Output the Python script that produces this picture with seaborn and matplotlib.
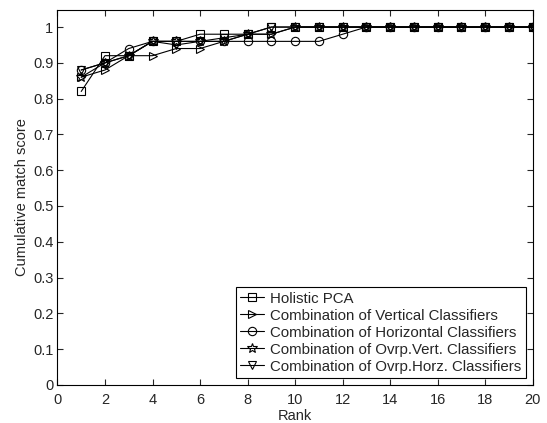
import numpy as np
import pandas as pd
import seaborn as sns
import matplotlib
matplotlib.use("Agg")
import matplotlib.pyplot as plt

rank = list(range(1, 21))
holistic_pca = [0.82, 0.92, 0.92, 0.96, 0.96, 0.98, 0.98, 0.98, 1.0, 1.0,
                1.0, 1.0, 1.0, 1.0, 1.0, 1.0, 1.0, 1.0, 1.0, 1.0]
comb_vertical = [0.86, 0.88, 0.92, 0.92, 0.94, 0.94, 0.96, 0.98, 0.98, 1.0,
                 1.0, 1.0, 1.0, 1.0, 1.0, 1.0, 1.0, 1.0, 1.0, 1.0]
comb_horizontal = [0.88, 0.90, 0.94, 0.96, 0.96, 0.96, 0.96, 0.96, 0.96, 0.96,
                   0.96, 0.98, 1.0, 1.0, 1.0, 1.0, 1.0, 1.0, 1.0, 1.0]
comb_ovrp_vert = [0.86, 0.90, 0.92, 0.96, 0.96, 0.96, 0.96, 0.98, 0.98, 1.0,
                  1.0, 1.0, 1.0, 1.0, 1.0, 1.0, 1.0, 1.0, 1.0, 1.0]
comb_ovrp_horz = [0.88, 0.90, 0.92, 0.96, 0.95, 0.96, 0.97, 0.98, 1.0, 1.0,
                  1.0, 1.0, 1.0, 1.0, 1.0, 1.0, 1.0, 1.0, 1.0, 1.0]

names = ["Holistic PCA",
         "Combination of Vertical Classifiers",
         "Combination of Horizontal Classifiers",
         "Combination of Ovrp.Vert. Classifiers",
         "Combination of Ovrp.Horz. Classifiers"]
series = [holistic_pca, comb_vertical, comb_horizontal, comb_ovrp_vert, comb_ovrp_horz]
markers = ["s", ">", "o", "*", "v"]

sns.set_style("ticks")
plt.rcParams["font.family"] = ["Liberation Sans", "DejaVu Sans"]
plt.rcParams["font.size"] = 10.5

fig = plt.figure(figsize=(5.47, 4.23), dpi=100)
ax = fig.add_axes([0.105, 0.09, 0.869, 0.8875])

for name, vals, m in zip(names, series, markers):
    df = pd.DataFrame({"Rank": rank, "score": vals})
    sns.lineplot(data=df, x="Rank", y="score", ax=ax, color="black", lw=0.8,
                 marker=m, markersize=6 if m != "*" else 7, markerfacecolor="none",
                 markeredgecolor="black", markeredgewidth=0.8, label=name)

ax.set_xlim(0, 20)
ax.set_ylim(0, 1.049)
ax.set_xticks(np.arange(0, 21, 2))
ax.set_yticks(np.arange(0, 1.01, 0.1))
ax.set_yticklabels(["0", "0.1", "0.2", "0.3", "0.4", "0.5", "0.6", "0.7", "0.8", "0.9", "1"])
ax.set_xlabel("Rank", labelpad=1)
ax.set_ylabel("Cumulative match score", labelpad=3)
ax.tick_params(direction="in", top=True, right=True, length=4, width=0.8, pad=3)
ax.tick_params(axis="x", pad=6)
for s in ax.spines.values():
    s.set_visible(True)
    s.set_linewidth(0.8)
    s.set_color("black")

leg = ax.legend(loc="lower right", frameon=True, fancybox=False, edgecolor="black",
                framealpha=1, borderaxespad=0.45, handlelength=1.6, labelspacing=0.2,
                borderpad=0.3, handletextpad=0.4, fontsize=10.8)
leg.get_frame().set_linewidth(0.8)

fig.savefig("out.png", dpi=100)
